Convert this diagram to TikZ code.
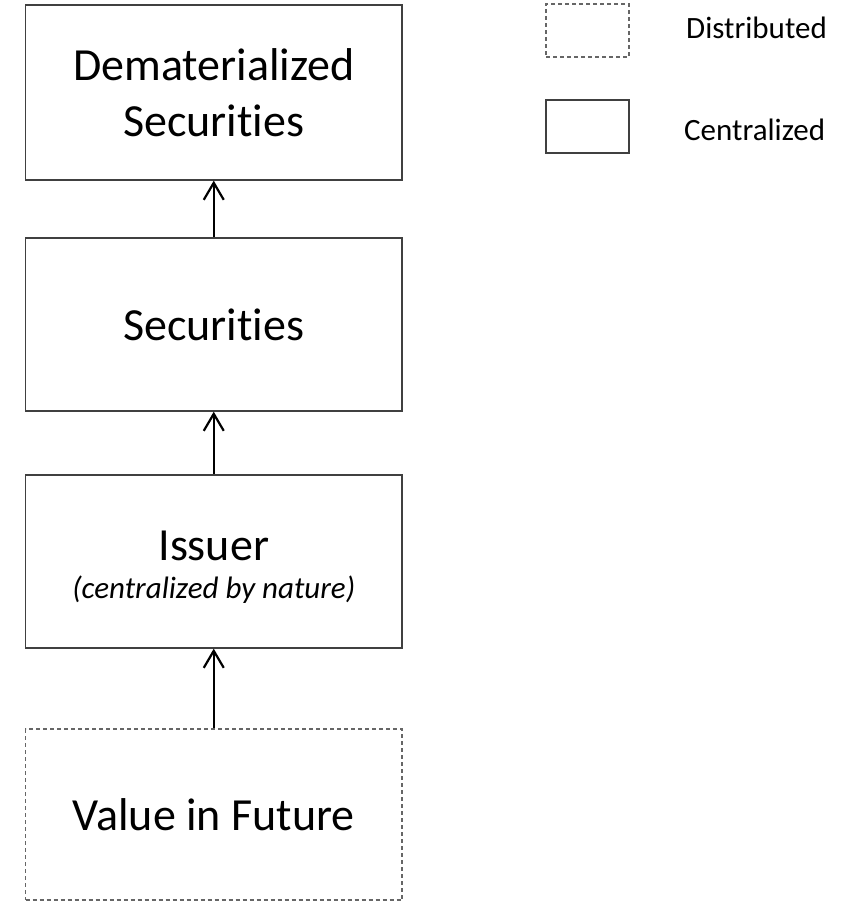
\documentclass[tikz,border=0pt]{standalone}
\usepackage{fontspec}
\setmainfont{Carlito}[RawFeature={-liga;-clig;-calt;-dlig}]
\usetikzlibrary{arrows.meta}
\begin{document}
\begin{tikzpicture}[x=1pt,y=-1pt,
  box/.style={draw=black!75,line width=1.3pt,rectangle,minimum width=376.5pt,inner sep=0pt,align=center,font=\fontsize{46}{56}\selectfont},
  dbox/.style={box,draw=black!60,dash pattern=on 4pt off 3pt},
  txt/.style={inner sep=0pt,anchor=base},
  legsolid/.style={draw=black!75,line width=1.3pt,rectangle,minimum width=83pt,minimum height=53pt,inner sep=0pt},
  legdash/.style={legsolid,draw=black!60,dash pattern=on 4pt off 3pt},
  legtext/.style={anchor=west,inner sep=0pt,font=\fontsize{31}{36}\selectfont},
  arr/.style={-{Straight Barb[length=17pt,width=20pt,line width=2.2pt]},line width=2.2pt,black}
]
\useasboundingbox (0,0) rectangle (853,902);
\node[box,minimum height=175pt] (b1) at (213.75,92.5) {Dematerialized\\Securit\kern0pt ies};
\node[box,minimum height=173pt] (b2) at (213.75,324.5) {Securit\kern0pt ies};
\node[box,minimum height=173pt] (b3) at (213.75,561.5) {};
\node[txt,font=\fontsize{46}{56}\selectfont] (t3a) at (213.75,560) {Issuer};
\node[txt,font=\fontsize{31}{36}\selectfont\itshape] (t3b) at (213.75,598) {(centralized by nature)};
\node[dbox,minimum height=171pt] (b4) at (213.75,814.5) {Value in Future};
\draw[arr] (b2.north) -- (b1.south);
\draw[arr] (b3.north) -- (b2.south);
\draw[arr] (b4.north) -- (b3.south);
\node[legdash] (l1) at (587.5,30.5) {};
\node[legsolid] (l2) at (587.5,126.5) {};
\node[legtext] (t1) at (686,28) {Distributed};
\node[legtext] (t2) at (684,130) {Centralized};
\end{tikzpicture}
\end{document}
